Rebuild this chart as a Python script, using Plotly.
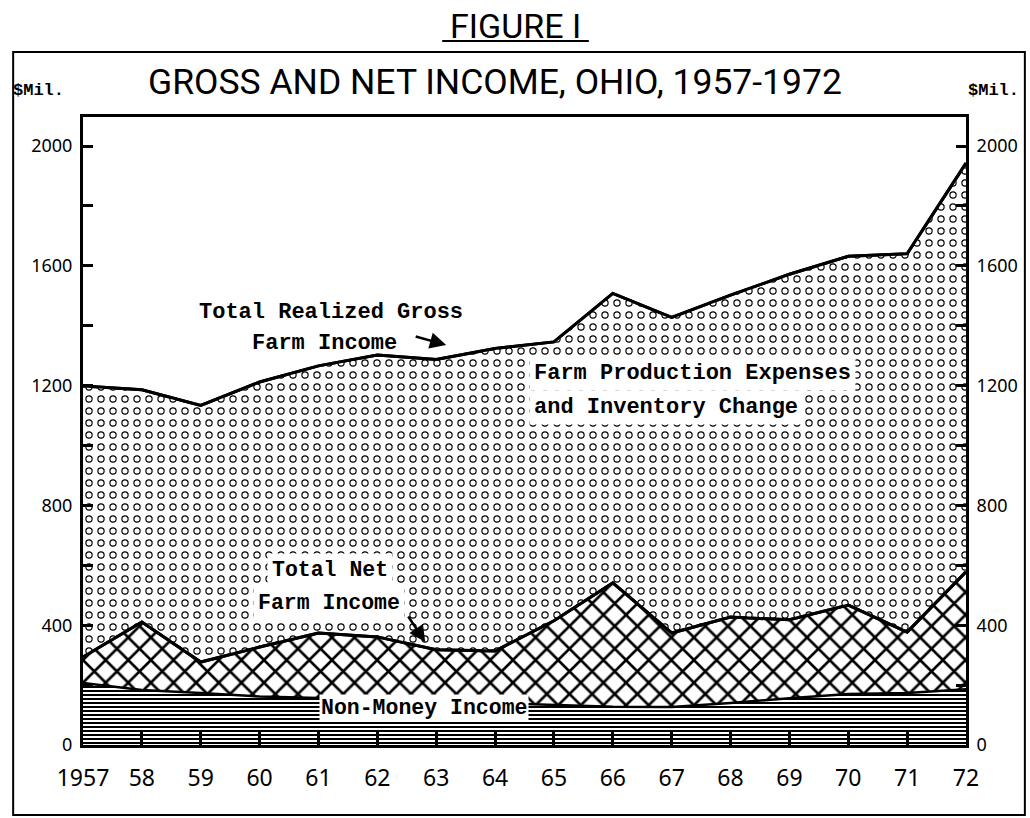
import plotly.graph_objects as go

# ---------------- data ----------------
years = list(range(1957, 1973))
year_labels = ["1957", "58", "59", "60", "61", "62", "63", "64",
               "65", "66", "67", "68", "69", "70", "71", "72"]
# Total realized gross farm income ($ mil.)
gross_income = [1199, 1186, 1134, 1212, 1266, 1302, 1287, 1324,
                1346, 1508, 1428, 1502, 1572, 1632, 1640, 1943]
# Total net farm income ($ mil.)
total_net_income = [294, 411, 277, 327, 374, 361, 318, 314,
                    415, 541, 374, 427, 418, 467, 377, 578]
# Non-money income ($ mil.)
non_money_income = [207, 184, 174, 162, 157, 150, 144, 140,
                    134, 128, 127, 140, 156, 170, 174, 186]
y_tick_values = list(range(0, 2001, 200))
y_tick_labels = [str(v) if v % 400 == 0 else "" for v in y_tick_values]

# ---------------- geometry helpers (pixels) ----------------
W, H = 1030, 818
PL, PR, PT, PB = 83, 968, 117, 745
X0, X1 = 1957, 1972
Y0, Y1 = 0, 2097


def dx(px):
    return X0 + (px - PL) / (PR - PL) * (X1 - X0)


def dy(py):
    return Y0 + (PB - py) / (PB - PT) * (Y1 - Y0)


def ppx(px):
    return (px - PL) / (PR - PL)


def ppy(py):
    return (PB - py) / (PB - PT)


MONO = "Liberation Mono, DejaVu Sans Mono, monospace"
COND = "Roboto, sans-serif"
NUM = "Noto Sans, DejaVu Sans, sans-serif"

fig = go.Figure()

# Non-money income (horizontal hatching)
fig.add_trace(go.Scatter(
    x=years, y=non_money_income, mode="lines",
    line=dict(color="black", width=2.5),
    fill="tozeroy", fillcolor="white",
    fillpattern=dict(shape="-", size=4, solidity=0.5, fgopacity=1,
                     fgcolor="black", bgcolor="white"),
    hoverinfo="skip", showlegend=False))

# Total net farm income (cross-hatch)
fig.add_trace(go.Scatter(
    x=years, y=total_net_income, mode="lines",
    line=dict(color="black", width=3),
    fill="tonexty", fillcolor="white",
    fillpattern=dict(shape="x", size=16, solidity=0.3, fgopacity=1,
                     fgcolor="black", bgcolor="white"),
    hoverinfo="skip", showlegend=False))

# Production expenses (open circles: black dots ...)
fig.add_trace(go.Scatter(
    x=years, y=gross_income, mode="lines",
    line=dict(color="black", width=3),
    fill="tonexty", fillcolor="white",
    fillpattern=dict(shape=".", size=12, solidity=0.3, fgopacity=1,
                     fgcolor="black", bgcolor="white"),
    hoverinfo="skip", showlegend=False))

# ... with white centres to make rings
fig.add_trace(go.Scatter(
    x=years, y=total_net_income, mode="lines",
    line=dict(color="black", width=3),
    hoverinfo="skip", showlegend=False))
fig.add_trace(go.Scatter(
    x=years, y=gross_income, mode="lines",
    line=dict(color="black", width=3),
    fill="tonexty", fillcolor="rgba(0,0,0,0)",
    fillpattern=dict(shape=".", size=12, solidity=0.14, fgopacity=1,
                     fgcolor="white", bgcolor="rgba(0,0,0,0)"),
    hoverinfo="skip", showlegend=False))

# dummy trace so the right-hand axis is drawn
fig.add_trace(go.Scatter(x=[years[0]], y=[None], yaxis="y2",
                         mode="lines", hoverinfo="skip", showlegend=False))

annotations = [
    dict(text="FIGURE I", x=ppx(516), y=ppy(26), font=dict(family=COND, size=34)),
    dict(text="GROSS AND NET INCOME, OHIO, 1957-1972", x=ppx(496), y=ppy(82),
         font=dict(family=COND, size=35.5)),
    dict(text="<b>$Mil.</b>", x=ppx(38), y=ppy(90), font=dict(family=MONO, size=17)),
    dict(text="<b>$Mil.</b>", x=ppx(996), y=ppy(90), font=dict(family=MONO, size=17)),
    dict(text="<b>Total Realized Gross</b>", x=ppx(197), y=ppy(312), xanchor="left",
         font=dict(family=MONO, size=22)),
    dict(text="<b>Farm Income</b>", x=ppx(250), y=ppy(343), xanchor="left",
         font=dict(family=MONO, size=22)),
    dict(text="<b>Farm Production Expenses</b>", x=ppx(530), y=ppy(373), xanchor="left",
         font=dict(family=MONO, size=22), bgcolor="white", borderpad=4),
    dict(text="<b>and Inventory Change</b>", x=ppx(530), y=ppy(408), xanchor="left",
         font=dict(family=MONO, size=22), bgcolor="white", borderpad=4),
    dict(text="<b>Total Net</b>", x=ppx(267), y=ppy(570), xanchor="left",
         font=dict(family=MONO, size=21.5), bgcolor="white", borderpad=4),
    dict(text="<b>Farm Income</b>", x=ppx(253), y=ppy(603), xanchor="left",
         font=dict(family=MONO, size=21.5), bgcolor="white", borderpad=4),
    dict(text="<b>Non-Money Income</b>", x=ppx(320), y=ppy(708), xanchor="left",
         font=dict(family=MONO, size=21.5), bgcolor="white", borderpad=1),
]
for a in annotations:
    a.update(xref="paper", yref="paper", showarrow=False)
    a.setdefault("xanchor", "center")
    a.setdefault("yanchor", "middle")

# arrows
annotations += [
    dict(x=dx(447), y=dy(345), xref="x", yref="y", ax=-32, ay=-9, text="",
         showarrow=True, arrowhead=2, arrowsize=1.3, arrowwidth=2.5, arrowcolor="black"),
    dict(x=dx(426), y=dy(642), xref="x", yref="y", ax=-18, ay=-27, text="",
         showarrow=True, arrowhead=2, arrowsize=1.3, arrowwidth=2.5, arrowcolor="black"),
]

shapes = [
    dict(type="rect", xref="paper", yref="paper",
         x0=ppx(13), x1=ppx(1027), y0=ppy(815), y1=ppy(52),
         line=dict(color="black", width=2)),
    dict(type="line", xref="paper", yref="paper",
         x0=ppx(443), x1=ppx(590), y0=ppy(41), y1=ppy(41),
         line=dict(color="black", width=2)),
]

fig.update_layout(
    width=W, height=H,
    margin=dict(l=PL, r=W - PR, t=PT, b=H - PB, pad=0),
    paper_bgcolor="white", plot_bgcolor="white",
    font=dict(color="black"),
    showlegend=False,
    annotations=annotations, shapes=shapes,
    xaxis=dict(range=[X0, X1], tickvals=years, ticktext=year_labels,
               ticks="inside", ticklen=13, tickwidth=3, tickcolor="black",
               ticklabelstandoff=10,
               tickfont=dict(family=NUM, size=23, color="black"),
               showline=True, linewidth=3, linecolor="black", mirror=True,
               showgrid=False, zeroline=False),
    yaxis=dict(range=[Y0, Y1], tickvals=y_tick_values, ticktext=y_tick_labels,
               ticks="inside", ticklen=10, tickwidth=2.5, tickcolor="black",
               ticklabelstandoff=4,
               tickfont=dict(family=NUM, size=18, color="black"),
               showline=True, linewidth=3, linecolor="black",
               showgrid=False, zeroline=False),
    yaxis2=dict(range=[Y0, Y1], overlaying="y", side="right",
                tickvals=y_tick_values, ticktext=y_tick_labels,
                ticks="inside", ticklen=10, tickwidth=2.5, tickcolor="black",
                ticklabelstandoff=4,
                tickfont=dict(family=NUM, size=18, color="black"),
                showline=True, linewidth=3, linecolor="black",
                showgrid=False, zeroline=False),
)

fig.write_html("out.html", config={"displayModeBar": False},
               post_script="document.body.style.margin='0';")
